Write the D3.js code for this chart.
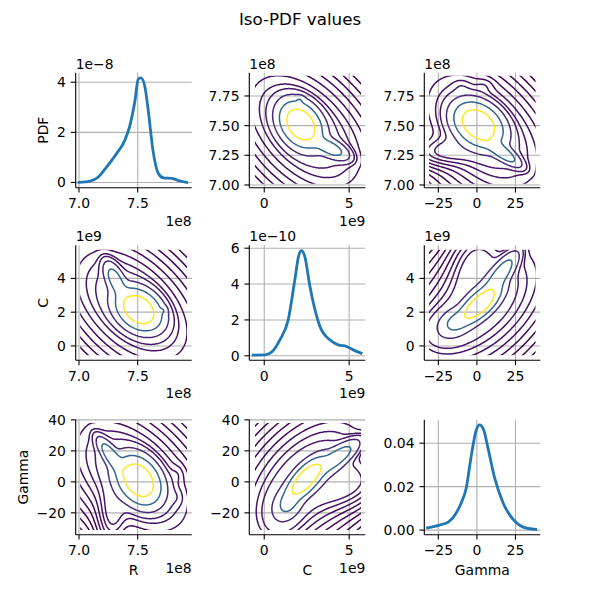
<!DOCTYPE html>
<html><head><meta charset="utf-8">
<script src="https://cdn.jsdelivr.net/npm/d3@7"></script>
<style>body{margin:0;background:#fff} text{font-family:"DejaVu Sans",sans-serif;fill:#000}</style>
</head><body><svg id="c" width="600" height="600"></svg>
<script>
// ---------------- data ----------------
const variables = ["R", "C", "Gamma"];
const axisExp = {R: "1e8", C: "1e9", Gamma: null};
const pdfExp = {R: "1e\u22128", C: "1e\u221210", Gamma: null};

// marginal PDFs (diagonal); R in 1e8, pdf in 1e-8 ; C in 1e9, pdf in 1e-10
const rPdfX = [7.0, 7.094, 7.165, 7.236, 7.32, 7.39, 7.434, 7.477, 7.505, 7.528, 7.562, 7.59, 7.63, 7.676, 7.72, 7.79, 7.86, 7.917];
const rPdfY = [0.0, 0.05, 0.22, 0.62, 1.15, 1.68, 2.28, 3.27, 4.13, 4.17, 3.8, 2.87, 1.28, 0.36, 0.18, 0.16, 0.06, 0.0];
const cPdfX = [-0.65, 0.04, 0.43, 0.92, 1.41, 1.8, 2.04, 2.2, 2.39, 2.69, 3.28, 3.86, 4.35, 4.85, 5.24, 5.7];
const cPdfY = [0.04, 0.05, 0.2, 0.89, 2.0, 4.23, 5.63, 5.87, 5.53, 3.86, 1.63, 0.89, 0.61, 0.52, 0.33, 0.15];
const gPdfX = [-32, -24.3, -18.3, -13.4, -10.2, -6.9, -3.7, -0.4, 1.76, 4.4, 7.2, 11.5, 17, 23.5, 30, 38.1];
const gPdfY = [0.001, 0.0023, 0.0038, 0.0079, 0.0125, 0.0194, 0.034, 0.0461, 0.0484, 0.0461, 0.0377, 0.024, 0.0125, 0.0049, 0.0014, 0.0003];

// bivariate iso-PDF shapes: components [meanX, meanY, sdX, sdY, rho, weight]
const compCR = [            // x = C (1e9), y = R (1e8)
  [2.15, 7.51, 0.59, 0.092, -0.3, 1.0],
  [3.9, 7.31, 0.55, 0.05, -0.6, 0.095],
  [2.4, 7.45, 2.2, 0.32, -0.49, 0.47],
  [2.1, 7.72, 0.15, 0.02, 0.0, 0.003]
];
const compGR = [            // x = Gamma, y = R (1e8)
  [1.0, 7.51, 7.5, 0.089, -0.3, 1.0],
  [16, 7.28, 6, 0.06, -0.8, 0.1],
  [3.5, 7.45, 24, 0.32, -0.49, 0.42],
  [-22, 7.28, 12, 0.07, 0.0, 0.026],
  [-10, 7.84, 4, 0.04, 0.0, 0.0012],
  [5, 7.84, 4, 0.04, 0.0, 0.0012]
];
const compGC = [            // x = Gamma, y = C (1e9)
  [1.8, 2.45, 6.5, 0.55, 0.7, 1.0],
  [15, 4.2, 6, 0.7, 0.8, 0.26],
  [-14, 1.4, 5, 0.4, 0.3, 0.11],
  [3.5, 2.55, 24, 2.2, 0.49, 0.72],
  [-22, 1.0, 12, 0.9, 0.2, 0.083],
  [-2, 5.0, 9, 1.2, 0.3, 0.08]
];
const isoLevels = [0.00044, 0.00091, 0.00176, 0.00318, 0.00541, 0.00866, 0.01299, 0.01832, 0.02426, 0.045, 0.13, 0.4];

const sampleRange = {R: [7.01, 7.92], C: [-0.55, 5.7], Gamma: [-31, 38]};
const xTicks = {R: [7.0, 7.5], C: [0, 5], Gamma: [-25, 0, 25]};
const yTicksOff = {R: [7.0, 7.25, 7.5, 7.75], C: [0, 2, 4], Gamma: [-20, 0, 20, 40]};
const yTicksDiag = {R: [0, 2, 4], C: [0, 2, 4, 6], Gamma: [0, 0.02, 0.04]};
const xFmt = {R: ".1f", C: "d", Gamma: "d"};
const yFmtOff = {R: ".2f", C: "d", Gamma: "d"};
const yFmtDiag = {R: "d", C: "d", Gamma: ".2f"};
const diagData = {R: [rPdfX, rPdfY], C: [cPdfX, cPdfY], Gamma: [gPdfX, gPdfY]};
const pairs = {"C|R": compCR, "Gamma|R": compGR, "Gamma|C": compGC};

// ---------------- layout ----------------
const colLeft = [75.7, 249.3, 424.3], panelW = 116;
const rowTop = [72.7, 245.3, 419.7], panelH = 115;
const xDom = {R: [6.972, 7.96], C: [-0.88, 5.95], Gamma: [-34.1, 41.1]};
const yDomOff = {R: [6.977, 7.946], C: [-0.85, 5.96], Gamma: [-34.1, 40.1]};
const FS = 13.9;
const gridColor = "#b0b0b0";

const svg = d3.select("#c");
svg.append("text").attr("x", 300).attr("y", 25).attr("text-anchor", "middle")
  .style("font-size", "16.7px").text("Iso-PDF values");

function gauss(c, x, y) {
  const [mx, my, sx, sy, r, w] = c;
  const dx = (x - mx) / sx, dy = (y - my) / sy;
  const q = (dx * dx - 2 * r * dx * dy + dy * dy) / (1 - r * r);
  return w * Math.exp(-q / 2) / (2 * Math.PI * sx * sy * Math.sqrt(1 - r * r));
}

let clipId = 0;
for (let i = 0; i < 3; i++) {
  for (let j = 0; j < 3; j++) {
    const xv = variables[j], yv = variables[i];
    const L = colLeft[j], T = rowTop[i], R = L + panelW, B = T + panelH;
    const g = svg.append("g");
    const xs = d3.scaleLinear().domain(xDom[xv]).range([L, R]);
    let ys, yTicks, yFmt, topExp;
    const diag = i === j;
    if (diag) {
      const [dx, dy] = diagData[xv];
      const mn = d3.min(dy), mx = d3.max(dy), pad = 0.05 * (mx - mn);
      ys = d3.scaleLinear().domain([mn - pad, mx + pad]).range([B, T]);
      yTicks = yTicksDiag[xv]; yFmt = yFmtDiag[xv]; topExp = pdfExp[xv];
    } else {
      ys = d3.scaleLinear().domain(yDomOff[yv]).range([B, T]);
      yTicks = yTicksOff[yv]; yFmt = yFmtOff[yv]; topExp = axisExp[yv];
    }
    // grid
    g.selectAll(null).data(xTicks[xv]).enter().append("line")
      .attr("x1", d => xs(d)).attr("x2", d => xs(d)).attr("y1", T).attr("y2", B)
      .attr("stroke", gridColor).attr("stroke-width", 1.1);
    g.selectAll(null).data(yTicks).enter().append("line")
      .attr("y1", d => ys(d)).attr("y2", d => ys(d)).attr("x1", L).attr("x2", R)
      .attr("stroke", gridColor).attr("stroke-width", 1.1);

    if (diag) {
      const [dx, dy] = diagData[xv];
      const line = d3.line().x((d, k) => xs(dx[k])).y(d => ys(d)).curve(d3.curveMonotoneX);
      g.append("path").attr("d", line(dy)).attr("fill", "none")
        .attr("stroke", "#1f77b4").attr("stroke-width", 2.8).attr("stroke-linecap", "square");
    } else {
      let comps = pairs[xv + "|" + yv], swap = false;
      if (!comps) { comps = pairs[yv + "|" + xv]; swap = true; }
      const f = (x, y) => d3.sum(comps, c => swap ? gauss(c, y, x) : gauss(c, x, y));
      const [gx0, gx1] = sampleRange[xv], [gy0, gy1] = sampleRange[yv];
      const ex0 = gx0 - 0.25 * (gx1 - gx0), ex1 = gx1 + 0.25 * (gx1 - gx0);
      const ey0 = gy0 - 0.25 * (gy1 - gy0), ey1 = gy1 + 0.25 * (gy1 - gy0);
      const n = 160, ddx = (ex1 - ex0) / (n - 1), ddy = (ey1 - ey0) / (n - 1);
      const vals = new Float64Array(n * n);
      let vmax = 0;
      for (let b = 0; b < n; b++) for (let a = 0; a < n; a++) {
        const x = ex0 + a * ddx, y = ey0 + b * ddy;
        const v = f(x, y);
        vals[b * n + a] = v;
        if (v > vmax) vmax = v;
      }
      const th = isoLevels.map(p => p * vmax);
      const tmin = d3.min(th), tmax = d3.max(th);
      const conts = d3.contours().size([n, n]).thresholds(th)(vals);
      const proj = d3.geoTransform({
        point: function (px, py) { this.stream.point(xs(ex0 + (px - 0.5) * ddx), ys(ey0 + (py - 0.5) * ddy)); }
      });
      const path = d3.geoPath(proj);
      const id = "clip" + (clipId++);
      g.append("clipPath").attr("id", id).append("rect")
        .attr("x", xs(gx0)).attr("y", ys(gy1)).attr("width", xs(gx1) - xs(gx0)).attr("height", ys(gy0) - ys(gy1));
      g.append("g").attr("clip-path", `url(#${id})`).selectAll("path").data(conts).enter().append("path")
        .attr("d", path).attr("fill", "none")
        .attr("stroke", d => d3.interpolateViridis((d.value - tmin) / (tmax - tmin)))
        .attr("stroke-width", 1.5);
    }
    // spines
    g.append("line").attr("x1", L).attr("x2", L).attr("y1", T).attr("y2", B).attr("stroke", "#000").attr("stroke-width", 1.1);
    g.append("line").attr("x1", L).attr("x2", R).attr("y1", B).attr("y2", B).attr("stroke", "#000").attr("stroke-width", 1.1);
    // x ticks
    const fx = d3.format(xFmt[xv]);
    xTicks[xv].forEach(t => {
      g.append("line").attr("x1", xs(t)).attr("x2", xs(t)).attr("y1", B).attr("y2", B + 4.9).attr("stroke", "#000").attr("stroke-width", 1.1);
      g.append("text").attr("x", xs(t)).attr("y", B + 20.3).attr("text-anchor", "middle").style("font-size", FS + "px").text(fx(t));
    });
    // y ticks
    const fy = d3.format(yFmt);
    let maxW = 0;
    yTicks.forEach(t => {
      g.append("line").attr("x1", L - 4.9).attr("x2", L).attr("y1", ys(t)).attr("y2", ys(t)).attr("stroke", "#000").attr("stroke-width", 1.1);
      const tx = g.append("text").attr("x", L - 9.8).attr("y", ys(t)).attr("dy", "0.36em").attr("text-anchor", "end").style("font-size", FS + "px").text(fy(t));
      maxW = Math.max(maxW, tx.node().getComputedTextLength());
    });
    // offset texts
    if (topExp) g.append("text").attr("x", L).attr("y", T - 4).style("font-size", FS + "px").text(topExp);
    if (axisExp[xv]) g.append("text").attr("x", R).attr("y", B + 38).attr("text-anchor", "end").style("font-size", FS + "px").text(axisExp[xv]);
    // axis labels
    if (j === 0) {
      const lx = L - 9.8 - maxW - 5.56 - 3.3;
      const lab = i === 0 ? "PDF" : yv;
      g.append("text").attr("transform", `translate(${lx},${(T + B) / 2}) rotate(-90)`)
        .attr("text-anchor", "middle").style("font-size", FS + "px").text(lab);
    }
    if (i === 2) {
      g.append("text").attr("x", (L + R) / 2).attr("y", B + 40.7).attr("text-anchor", "middle").style("font-size", FS + "px").text(xv);
    }
  }
}
</script></body></html>
